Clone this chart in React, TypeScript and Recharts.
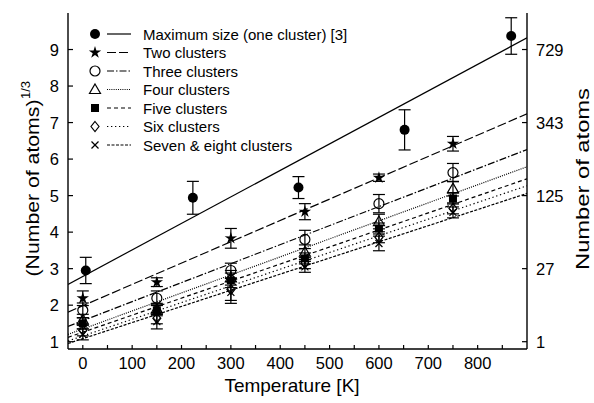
import React from 'react';
import { ComposedChart, XAxis, YAxis, Line, Scatter, ErrorBar } from 'recharts';

const seriesNames = [
  'Maximum size (one cluster) [3]',
  'Two clusters',
  'Three clusters',
  'Four clusters',
  'Five clusters',
  'Six clusters',
  'Seven & eight clusters',
];
const markerKinds = ['dot', 'star', 'circle', 'triangle', 'square', 'diamond', 'cross'];
const dashes = ['', '9 3', '7 2 1.5 2', '1 1.2', '4 3', '1.3 2.7', '3 1.5'];

const maxT = [6, 223, 437, 652, 868];
const maxV = [2.95, 4.94, 5.22, 6.8, 9.37];
const maxErr = [0.36, 0.45, 0.3, 0.55, 0.5];

const clusterT = [0, 150, 300, 450, 600, 750];
const twoV = [2.19, 2.63, 3.83, 4.56, 5.49, 6.42];
const twoErr = [0.2, 0.12, 0.27, 0.22, 0.1, 0.2];
const threeV = [1.86, 2.19, 2.95, 3.8, 4.78, 5.63];
const threeErr = [0.2, 0.2, 0.2, 0.25, 0.25, 0.25];
const fourV = [1.6, 1.9, 2.75, 3.45, 4.29, 5.19];
const fourErr = [0.15, 0.15, 0.2, 0.2, 0.2, 0.2];
const fiveV = [1.5, 1.86, 2.68, 3.28, 4.1, 4.92];
const fiveErr = [0.15, 0.15, 0.2, 0.15, 0.15, 0.15];
const sixV = [1.31, 1.64, 2.43, 3.15, 3.86, 4.65];
const sixErr = [0.15, 0.15, 0.3, 0.15, 0.15, 0.15];
const sevenV = [1.2, 1.55, 2.35, 3.05, 3.69, 4.54];
const sevenErr = [0.15, 0.2, 0.3, 0.15, 0.2, 0.15];

const fitT = [-30, 900];
const fitStart = [2.57, 1.81, 1.42, 1.2, 1.12, 1.02, 0.95];
const fitEnd = [9.32, 7.24, 6.26, 5.79, 5.46, 5.27, 5.06];

const xTicks = [0, 50, 100, 150, 200, 250, 300, 350, 400, 450, 500, 550, 600, 650, 700, 750, 800, 850];
const leftTicks = [1, 2, 3, 4, 5, 6, 7, 8, 9];
const rightTicks = [1, 3, 5, 7, 9];

const FONT = '"Liberation Sans", Arial, Helvetica, sans-serif';

const build = (ts: number[], vs: number[], es: number[]) => ts.map((t, i) => ({ x: t, y: vs[i], e: es[i] }));
const pointSets = [
  build(maxT, maxV, maxErr),
  build(clusterT, twoV, twoErr),
  build(clusterT, threeV, threeErr),
  build(clusterT, fourV, fourErr),
  build(clusterT, fiveV, fiveErr),
  build(clusterT, sixV, sixErr),
  build(clusterT, sevenV, sevenErr),
];
const fitSets = fitStart.map((s, i) => [{ x: fitT[0], y: s }, { x: fitT[1], y: fitEnd[i] }]);

function Marker({ kind, cx, cy }: { kind: string; cx: number; cy: number }) {
  const sw = 1.2;
  switch (kind) {
    case 'dot':
      return <circle cx={cx} cy={cy} r={5} fill="#000" />;
    case 'star': {
      const pts: string[] = [];
      for (let i = 0; i < 10; i++) {
        const r = i % 2 === 0 ? 6.5 : 2.4;
        const a = -Math.PI / 2 + (i * Math.PI) / 5;
        pts.push(`${cx + r * Math.cos(a)},${cy + r * Math.sin(a)}`);
      }
      return <polygon points={pts.join(' ')} fill="#000" />;
    }
    case 'circle':
      return <circle cx={cx} cy={cy} r={5} fill="none" stroke="#000" strokeWidth={sw} />;
    case 'triangle':
      return (
        <polygon
          points={`${cx},${cy - 5.5} ${cx + 5.5},${cy + 4} ${cx - 5.5},${cy + 4}`}
          fill="none"
          stroke="#000"
          strokeWidth={sw}
        />
      );
    case 'square':
      return <rect x={cx - 4} y={cy - 4} width={8} height={8} fill="#000" />;
    case 'diamond':
      return (
        <polygon
          points={`${cx},${cy - 5} ${cx + 4},${cy} ${cx},${cy + 5} ${cx - 4},${cy}`}
          fill="none"
          stroke="#000"
          strokeWidth={sw}
        />
      );
    case 'cross':
      return (
        <g stroke="#000" strokeWidth={sw}>
          <line x1={cx - 3.5} y1={cy - 3.5} x2={cx + 3.5} y2={cy + 3.5} />
          <line x1={cx - 3.5} y1={cy + 3.5} x2={cx + 3.5} y2={cy - 3.5} />
        </g>
      );
    default:
      return null;
  }
}

const BottomTick = (p: any) => {
  const { x, y, payload } = p;
  const v = payload.value;
  return (
    <g>
      <line x1={x} x2={x} y1={y} y2={y - 4} stroke="#000" strokeWidth={1.2} />
      {v % 100 === 0 && (
        <text x={x} y={y + 14} textAnchor="middle" dominantBaseline="central" fontSize={16.5} fontFamily={FONT} fill="#000">
          {v}
        </text>
      )}
    </g>
  );
};
const TopTick = (p: any) => {
  const { x, y } = p;
  return <line x1={x} x2={x} y1={y} y2={y + 4} stroke="#000" strokeWidth={1.2} />;
};
const LeftTick = (p: any) => {
  const { x, y, payload } = p;
  return (
    <g>
      <line x1={x} x2={x + 5} y1={y} y2={y} stroke="#000" strokeWidth={1.2} />
      <text x={x - 9} y={y} textAnchor="end" dominantBaseline="central" fontSize={16.5} fontFamily={FONT} fill="#000">
        {payload.value}
      </text>
    </g>
  );
};
const RightTick = (p: any) => {
  const { x, y, payload } = p;
  const v = payload.value;
  return (
    <g>
      <line x1={x} x2={x - 5} y1={y} y2={y} stroke="#000" strokeWidth={1.2} />
      <text x={x + 9} y={y} textAnchor="start" dominantBaseline="central" fontSize={16.5} fontFamily={FONT} fill="#000">
        {v * v * v}
      </text>
    </g>
  );
};

const legendY0 = 34;
const legendStep = 18.5;

export default function App() {
  return (
    <div style={{ position: 'absolute', left: 0, top: 0, background: '#fff' }}>
      <ComposedChart width={594} height={403} margin={{ top: 13, right: 0, bottom: 0, left: 0 }}>
        <XAxis
          xAxisId="bottom"
          dataKey="x"
          type="number"
          domain={[-30, 900]}
          allowDataOverflow
          ticks={xTicks}
          interval={0}
          height={54}
          tickSize={0}
          tickMargin={0}
          tickLine={false}
          axisLine={{ stroke: '#000', strokeWidth: 1.4 }}
          tick={BottomTick}
        />
        <XAxis
          xAxisId="top"
          orientation="top"
          dataKey="x"
          type="number"
          domain={[-30, 900]}
          allowDataOverflow
          ticks={xTicks}
          interval={0}
          height={0}
          tickSize={0}
          tickMargin={0}
          tickLine={false}
          axisLine={{ stroke: '#000', strokeWidth: 1.4 }}
          tick={TopTick}
        />
        <YAxis
          yAxisId="left"
          dataKey="y"
          type="number"
          domain={[0.8, 10]}
          allowDataOverflow
          ticks={leftTicks}
          interval={0}
          width={68}
          tickSize={0}
          tickMargin={0}
          tickLine={false}
          axisLine={{ stroke: '#000', strokeWidth: 1.4 }}
          tick={LeftTick}
        />
        <YAxis
          yAxisId="right"
          orientation="right"
          dataKey="y"
          type="number"
          domain={[0.8, 10]}
          allowDataOverflow
          ticks={rightTicks}
          interval={0}
          width={67}
          tickSize={0}
          tickMargin={0}
          tickLine={false}
          axisLine={{ stroke: '#000', strokeWidth: 1.4 }}
          tick={RightTick}
        />
        <Line
          xAxisId="top"
          yAxisId="right"
          data={[{ x: -30, y: 0.8 }, { x: 900, y: 10 }]}
          dataKey="y"
          stroke="none"
          dot={false}
          activeDot={false}
          isAnimationActive={false}
          legendType="none"
        />
        {fitSets.map((d, i) => (
          <Line
            key={'fit' + i}
            xAxisId="bottom"
            yAxisId="left"
            data={d}
            dataKey="y"
            type="linear"
            stroke="#000"
            strokeWidth={1.2}
            strokeDasharray={dashes[i] || undefined}
            dot={false}
            activeDot={false}
            isAnimationActive={false}
          />
        ))}
        {pointSets.map((d, i) => (
          <Scatter
            key={'pts' + i}
            xAxisId="bottom"
            yAxisId="left"
            data={d}
            dataKey="y"
            isAnimationActive={false}
            shape={(p: any) => <Marker kind={markerKinds[i]} cx={p.cx} cy={p.cy} />}
          >
            <ErrorBar dataKey="e" direction="y" width={6} stroke="#000" strokeWidth={1.2} isAnimationActive={false} />
          </Scatter>
        ))}
        <g>
          {seriesNames.map((name, i) => {
            const y = legendY0 + i * legendStep;
            return (
              <g key={'leg' + i}>
                <Marker kind={markerKinds[i]} cx={95} cy={y} />
                <line x1={107} x2={131} y1={y} y2={y} stroke="#000" strokeWidth={1.2} strokeDasharray={dashes[i] || undefined} />
                <text x={143} y={y} dominantBaseline="central" fontSize={15} fontFamily={FONT} fill="#000">
                  {name}
                </text>
              </g>
            );
          })}
        </g>
        <text x={292} y={385} textAnchor="middle" dominantBaseline="central" fontSize={19} fontFamily={FONT} fill="#000">
          Temperature [K]
        </text>
        <g transform="translate(32,188) rotate(-90)">
          <text x={0} y={0} textAnchor="middle" dominantBaseline="central" fontSize={19} fontFamily={FONT} fill="#000" textLength={177} lengthAdjust="spacingAndGlyphs">
            (Number of atoms)
          </text>
          <text x={89} y={-7} textAnchor="start" dominantBaseline="central" fontSize={13} fontFamily={FONT} fill="#000">
            1/3
          </text>
        </g>
        <g transform="translate(582,179) rotate(-90)">
          <text x={0} y={0} textAnchor="middle" dominantBaseline="central" fontSize={19} fontFamily={FONT} fill="#000" textLength={182} lengthAdjust="spacingAndGlyphs">
            Number of atoms
          </text>
        </g>
      </ComposedChart>
    </div>
  );
}
